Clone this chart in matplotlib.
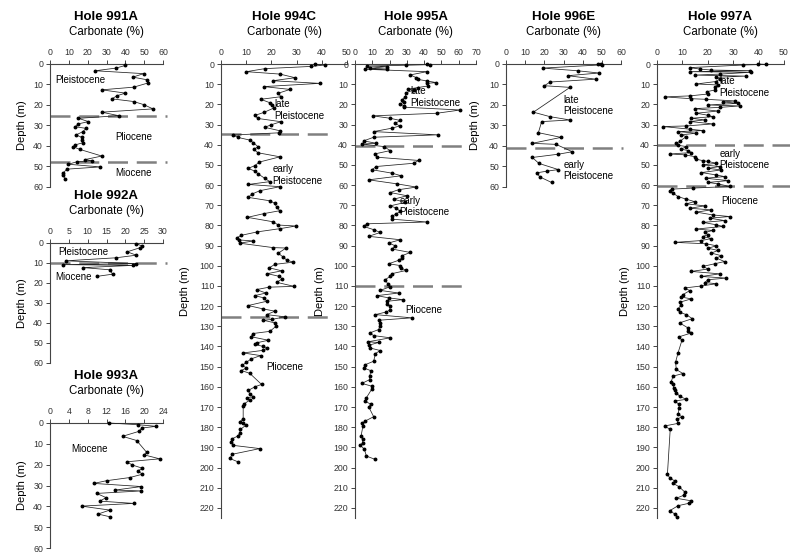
import matplotlib
matplotlib.use("Agg")
import matplotlib.pyplot as plt

plt.rcParams["font.family"] = ["Liberation Sans", "DejaVu Sans"]

# Carbonate (%) vs depth (m) for each hole
d991 = [0.7, 2.0, 3.3, 4.7, 6.4, 7.7, 9.3, 11.3, 12.6, 14.2, 15.5, 17.0, 18.3, 19.8,
        21.9, 23.5, 25.2, 26.5, 28.1, 29.2, 30.6, 31.4, 33.0, 34.6, 35.8, 37.1, 38.4,
        39.5, 40.4, 41.7, 44.9, 46.6, 47.2, 47.7, 48.9, 50.2, 51.3, 53.1, 54.2, 55.9]
c991 = [40.0, 35.0, 24.0, 49.7, 44.0, 51.5, 51.9, 44.4, 27.5, 40.0, 35.5, 32.9, 44.4, 49.7,
        54.7, 27.5, 36.4, 15.1, 20.4, 15.1, 13.3, 19.2, 17.4, 13.9, 16.9, 16.9, 17.4,
        13.3, 12.4, 16.0, 27.5, 18.7, 22.2, 14.2, 9.8, 26.6, 8.9, 7.1, 6.7, 8.0]

d992 = [0.3, 1.6, 2.3, 4.4, 6.1, 7.4, 8.9, 10.3, 10.8, 11.2, 12.3, 13.4, 15.6, 16.7]
c992 = [22.9, 24.5, 24.0, 20.5, 22.9, 17.5, 4.2, 22.9, 3.5, 22.0, 8.8, 15.9, 16.6, 12.4]

d993 = [0.0, 0.8, 1.6, 2.4, 4.0, 6.4, 8.4, 14.0, 15.3, 17.2, 18.6, 20.1, 21.7, 23.0,
        24.6, 26.2, 27.7, 29.0, 30.5, 32.2, 32.6, 33.8, 35.8, 37.5, 38.6, 39.9, 41.8,
        43.7, 45.0]
c993 = [12.5, 18.6, 22.6, 19.5, 18.9, 15.4, 18.4, 20.5, 20.0, 23.3, 16.4, 17.4, 19.6, 18.7,
        19.6, 16.9, 12.0, 9.3, 19.4, 13.8, 19.4, 9.9, 11.9, 10.6, 17.8, 6.7, 12.7,
        10.2, 12.7]

d994 = [0.2, 0.5, 1.2, 2.3, 3.8, 5.0, 6.8, 8.3, 9.6, 11.2, 12.6, 14.5, 16.2, 17.5, 19.2,
        20.5, 21.8, 24.0, 25.5, 27.0, 28.6, 30.2, 31.4, 33.1, 34.1, 35.2, 36.4, 37.7,
        39.0, 41.0, 42.3, 44.0, 46.0, 48.6, 50.4, 51.7, 53.1, 54.4, 56.7, 58.3, 59.7,
        60.8, 62.8, 64.5, 66.1, 67.8, 69.1, 71.1, 72.7, 74.1, 76.0, 78.2, 79.8, 80.3,
        81.6, 83.2, 84.9, 86.0, 87.2, 87.7, 88.8, 91.0, 91.2, 93.8, 95.5, 97.2, 98.2,
        99.3, 101.0, 102.5, 103.9, 105.2, 106.5, 108.2, 110.2, 110.6, 111.8, 113.5,
        114.8, 115.9, 117.6, 119.7, 121.4, 122.5, 124.2, 125.3, 126.6, 127.0, 128.3,
        130.0, 132.5, 133.6, 135.2, 136.9, 138.2, 139.0, 139.9, 140.7, 141.9, 143.2,
        144.5, 146.1, 147.8, 149.4, 150.6, 151.9, 153.3, 158.8, 160.0, 161.8, 163.4,
        164.9, 165.4, 166.6, 168.4, 169.6, 175.8, 177.4, 178.1, 179.1, 181.1, 183.0,
        184.3, 185.7, 187.3, 189.0, 190.6, 193.4, 195.5, 197.2]
c994 = [37.4, 41.1, 35.8, 17.4, 10.1, 23.4, 29.4, 20.5, 39.1, 17.0, 27.4, 22.7, 23.8, 15.8, 19.4,
        20.1, 21.0, 17.0, 13.4, 14.7, 23.8, 19.7, 17.4, 23.4, 23.1, 4.8, 6.8, 11.4,
        12.8, 14.7, 13.0, 14.7, 23.4, 15.2, 13.4, 10.8, 13.4, 14.7, 17.4, 19.4, 10.8,
        23.4, 15.4, 12.2, 10.8, 19.4, 21.4, 22.1, 23.4, 17.2, 10.5, 20.7, 22.7, 29.7,
        23.4, 14.4, 8.1, 6.5, 7.2, 12.8, 7.4, 20.7, 25.8, 22.7, 24.5, 26.1, 28.7,
        21.4, 19.1, 24.1, 18.4, 23.0, 24.3, 22.1, 29.0, 19.1, 14.1, 17.8,
        13.4, 17.0, 18.1, 10.8, 16.8, 21.4, 18.1, 25.4, 20.1, 16.8, 21.4,
        21.8, 19.4, 12.5, 12.1, 18.8, 14.1, 13.4, 16.5, 18.4, 16.8, 8.8,
        15.7, 12.1, 10.1, 8.4, 10.1, 8.1, 11.4, 16.1, 13.4, 10.8, 11.4,
        12.8, 10.4, 11.4, 9.2, 8.8, 8.8, 7.4, 8.8, 9.8, 7.7, 7.4,
        6.8, 4.5, 4.1, 4.8, 15.4, 4.5, 3.5, 6.8]

d995 = [0.0, 0.3, 0.6, 1.0, 1.3, 2.1, 2.5, 2.6, 3.8, 5.4, 6.8, 7.6, 8.4, 9.2, 9.6, 10.9,
        11.7, 12.5, 12.9, 14.2, 16.2, 17.8, 18.6, 19.8, 20.8, 21.4, 22.8, 24.4, 25.7,
        26.9, 28.0, 29.4, 30.7, 31.8, 33.5, 35.1, 36.3, 38.1, 39.3, 39.7, 40.9, 42.9,
        44.5, 46.2, 47.8, 49.2, 50.8, 52.4, 54.1, 55.4, 57.4, 59.4, 61.0, 62.3, 63.7,
        65.3, 67.0, 68.6, 70.3, 71.4, 73.1, 74.2, 75.5, 76.9, 78.3, 79.2, 80.5, 82.1,
        83.5, 85.4, 87.1, 88.7, 90.1, 91.7, 93.4, 95.0, 96.2, 97.3, 99.0, 99.9, 101.1,
        102.3, 103.9, 105.2, 106.9, 108.9, 110.5, 112.2, 113.5, 114.8, 115.9, 116.8,
        117.6, 118.7, 120.1, 122.0, 122.9, 124.2, 125.8, 127.0, 128.3, 130.0, 131.6,
        133.3, 134.6, 135.7, 137.7, 138.0, 139.4, 140.7, 142.0, 143.5, 147.3, 149.0,
        150.6, 152.0, 154.7, 156.4, 158.3, 159.7, 161.0, 165.4, 167.1, 168.7, 169.9,
        174.8, 176.9, 178.1, 179.4, 184.4, 186.0, 187.7, 189.0, 190.9, 194.3, 196.0]
c995 = [41.6, 43.5, 29.7, 6.9, 18.5, 8.9, 18.5, 6.0, 41.6, 32.0, 35.5, 36.2, 41.6, 47.0, 41.6, 42.0,
        36.2, 30.4, 33.9, 29.7, 29.1, 27.2, 28.5, 26.2, 28.5, 28.5, 60.9, 47.4, 10.4,
        20.4, 26.2, 23.3, 25.8, 21.4, 10.8, 47.8, 10.8, 5.0, 12.3, 4.0, 16.6, 20.4,
        11.8, 12.7, 36.8, 33.9, 12.3, 9.8, 21.4, 26.8, 7.9, 24.3, 35.5, 25.2, 20.4,
        30.1, 22.4, 29.1, 20.4, 23.9, 26.2, 23.9, 21.4, 21.4, 41.6, 6.9, 5.0, 10.8,
        14.6, 7.9, 26.2, 19.5, 23.3, 21.4, 32.0, 27.2, 27.2, 25.2, 19.5, 26.2, 26.6,
        29.7, 21.4, 20.4, 17.5, 18.9, 20.0, 14.6, 25.2, 12.7, 19.5, 27.7,
        18.5, 18.5, 20.4, 20.0, 18.1, 11.8, 32.9, 13.7, 14.6, 14.3, 13.7,
        8.5, 10.8, 20.4, 7.3, 13.7, 7.9, 8.5, 14.6, 11.8, 10.8, 6.0,
        5.0, 9.2, 8.5, 8.5, 4.0, 9.8, 9.8, 6.6, 6.0, 9.2, 7.9,
        10.8, 6.0, 4.0, 4.6, 3.5, 4.4, 4.4, 3.1, 5.4, 6.6, 11.8]

d996 = [0.0, 0.2, 0.4, 2.0, 3.3, 4.4, 5.7, 7.4, 8.8, 10.6, 11.4, 23.5, 25.7, 27.3, 28.1,
        33.5, 35.8, 38.7, 39.2, 42.8, 44.0, 45.6, 48.5, 51.5, 52.3, 53.1, 55.1, 57.8]
c996 = [47.8, 49.6, 50.3, 19.1, 37.4, 48.5, 32.2, 46.8, 23.0, 20.0, 33.4, 14.3, 23.0, 33.4, 18.6,
        16.9, 28.7, 13.7, 26.1, 34.6, 27.3, 13.7, 17.2, 27.3, 21.2, 16.0, 17.7, 23.8]

d997 = [0.0, 0.2, 0.5, 1.8, 2.5, 3.0, 3.3, 3.8, 4.1, 5.0, 5.5, 6.0, 6.6, 7.6, 8.7, 9.9,
        10.4, 11.6, 12.9, 13.7, 14.9, 15.8, 16.3, 17.2, 17.5, 18.3, 18.8, 19.5, 20.3,
        20.8, 21.5, 22.1, 23.3, 24.4, 25.4, 26.1, 26.9, 27.7, 28.5, 29.7, 30.7, 31.0,
        32.3, 33.0, 33.5, 34.3, 35.1, 36.0, 38.4, 39.3, 40.3, 40.9, 42.2, 42.9, 43.9,
        44.6, 45.0, 45.9, 47.2, 47.9, 48.3, 49.2, 50.0, 50.8, 51.7, 52.5, 53.8, 55.0,
        55.8, 56.6, 57.8, 58.7, 59.4, 60.7, 61.5, 62.0, 62.7, 64.0, 65.7, 67.0, 68.2,
        69.3, 70.3, 71.5, 72.3, 73.4, 74.8, 75.6, 76.4, 77.6, 78.5, 79.7, 80.5, 81.8,
        82.5, 83.5, 84.5, 85.5, 86.5, 87.5, 88.4, 89.1, 90.1, 91.3, 92.4, 93.7, 95.0,
        96.2, 97.9, 99.0, 100.3, 101.6, 102.8, 104.0, 105.3, 106.1, 106.9, 108.3,
        108.9, 110.0, 111.0, 112.3, 114.3, 115.5, 116.4, 118.1, 119.2, 121.4, 123.0,
        124.2, 126.2, 128.3, 130.8, 132.4, 133.3, 135.2, 137.0, 143.1, 147.8, 151.4,
        153.4, 154.7, 157.5, 158.8, 160.5, 161.6, 162.9, 164.6, 166.2, 167.0, 168.7,
        170.4, 173.7, 174.8, 176.1, 178.1, 179.4, 181.1, 203.4, 205.0, 206.7, 207.8,
        209.5, 212.1, 213.7, 215.2, 216.5, 217.7, 218.9, 221.4, 223.0, 224.7]
c997 = [39.8, 43.0, 33.9, 12.9, 16.8, 21.4, 36.5, 12.9, 37.1, 24.7, 15.0, 35.0, 23.4, 24.7, 23.1, 15.5,
        24.0, 22.7, 22.7, 19.7, 19.9, 12.9, 3.0, 13.5, 19.4, 30.6, 26.0, 31.9, 20.1,
        32.5, 24.7, 14.8, 24.0, 15.5, 20.1, 22.0, 13.5, 18.8, 13.1, 22.0, 11.5, 2.4,
        12.9, 18.1, 8.3, 15.5, 9.6, 11.5, 8.9, 7.6, 8.3, 11.5, 9.6, 12.2, 13.5,
        5.0, 10.9, 14.8, 15.5, 18.1, 20.1, 23.4, 18.1, 24.7, 20.1, 25.3, 17.5, 23.4,
        26.6, 19.2, 28.0, 20.1, 24.0, 28.6, 14.0, 6.0, 5.0, 6.3, 8.3, 11.5, 14.8,
        11.5, 18.8, 12.9, 21.4, 15.5, 22.0, 28.6, 20.7, 26.6, 18.1, 23.4, 26.0, 15.5,
        22.0, 18.8, 20.1, 18.1, 21.4, 17.5, 7.0, 19.4, 23.4, 20.1, 24.0, 21.4, 25.3,
        23.4, 26.6, 22.7, 18.1, 20.1, 13.5, 24.7, 17.5, 27.3, 20.1, 18.8,
        23.4, 17.5, 10.9, 12.9, 10.2, 9.6, 13.5, 8.9, 9.6, 8.3, 8.9,
        11.5, 13.9, 8.9, 12.2, 12.2, 13.5, 8.7, 9.8, 8.3, 7.3, 7.6,
        10.2, 6.3, 5.6, 6.3, 6.6, 7.0, 7.6, 8.9, 11.5, 7.0, 8.7,
        8.7, 8.3, 9.8, 7.9, 8.3, 3.0, 5.2, 4.1, 5.0, 7.0, 6.3,
        8.7, 10.9, 10.6, 7.6, 13.5, 12.6, 8.3, 5.0, 7.0, 7.9]

# unit boundaries (m)
b991 = [25.2, 48.0]
b992 = [10.2]
b994 = [34.5, 125.3]
b995 = [40.4, 109.8]
b996 = [41.2]
b997 = [40.1, 60.7]

W, H = 790, 560
fig = plt.figure(figsize=(W / 100, H / 100), dpi=100)


def add_panel(name, depth, carb, bounds, px, xmax, xstep, ymax, dash_end, ylab_dx):
    x0, x1, ytop, ybot = px
    ax = fig.add_axes([x0 / W, 1 - ybot / H, (x1 - x0) / W, (ybot - ytop) / H])
    ax.set_xlim(0, xmax)
    ax.set_ylim(ymax, 0)
    ax.xaxis.tick_top()
    ax.set_xticks(range(0, xmax + 1, xstep))
    ax.set_yticks(range(0, int(ymax) + 1, 10))
    for s in ["right", "bottom"]:
        ax.spines[s].set_visible(False)
    for s in ["top", "left"]:
        ax.spines[s].set_linewidth(0.8)
        ax.spines[s].set_color("#444444")
    ax.tick_params(direction="out", length=3, width=0.7, labelsize=6.3, pad=2,
                   colors="#444444", labelcolor="#333333")
    ax.patch.set_visible(False)

    for b in bounds:
        ax.plot([0, dash_end], [b, b], color="#808080", lw=1.8, dashes=(8, 3.5),
                clip_on=False, zorder=1)
    ax.plot(carb, depth, color="#222222", lw=0.55, marker="o", ms=1.8,
            mfc="black", mec="black", clip_on=False, zorder=3)

    xc = (x0 + x1) / 2 / W
    fig.text(xc, 1 - (ytop - 47) / H, name, ha="center", va="center",
             fontsize=9.5, fontweight="bold")
    fig.text(xc, 1 - (ytop - 32) / H, "Carbonate (%)", ha="center", va="center",
             fontsize=8.3)
    fig.text((x0 - ylab_dx) / W, 1 - (ytop + ybot) / 2 / H, "Depth (m)", rotation=90,
             ha="center", va="center", fontsize=8)
    return ax


def label(ax, x, y, s):
    ax.text(x, y, s, fontsize=7, ha="left", va="center", linespacing=1.2)


ax = add_panel("Hole 991A", d991, c991, b991, (50, 163, 64, 187), 60, 10, 60, 62, 28)
label(ax, 2.7, 7.7, "Pleistocene")
label(ax, 34.6, 35.8, "Pliocene")
label(ax, 34.6, 53.4, "Miocene")

ax = add_panel("Hole 992A", d992, c992, b992, (50, 163, 243, 363), 30, 5, 60, 31, 28)
label(ax, 2.2, 4.7, "Pleistocene")
label(ax, 1.3, 17.2, "Miocene")

ax = add_panel("Hole 993A", d993, c993, [], (50, 163, 423, 548), 24, 4, 60, 24, 28)
label(ax, 4.6, 12.5, "Miocene")

ax = add_panel("Hole 994C", d994, c994, b994, (221, 347, 64, 518), 50, 10, 225, 43, 36)
label(ax, 21.0, 22.8, "late\nPleistocene")
label(ax, 20.5, 55.0, "early\nPleistocene")
label(ax, 17.8, 150.3, "Pliocene")

ax = add_panel("Hole 995A", d995, c995, b995, (355, 476, 64, 518), 70, 10, 225, 65, 35)
label(ax, 32.0, 16.3, "late\nPleistocene")
label(ax, 25.8, 70.6, "early\nPleistocene")
label(ax, 29.1, 121.7, "Pliocene")

ax = add_panel("Hole 996E", d996, c996, b996, (506, 621, 64, 187), 60, 10, 60, 61, 31)
label(ax, 29.9, 20.3, "late\nPleistocene")
label(ax, 29.9, 52.0, "early\nPleistocene")

ax = add_panel("Hole 997A", d997, c997, b997, (657, 784, 64, 518), 50, 10, 225, 53, 32)
label(ax, 24.7, 11.4, "late\nPleistocene")
label(ax, 24.7, 47.3, "early\nPleistocene")
label(ax, 25.3, 67.8, "Pliocene")

fig.savefig("out.png", dpi=100)
